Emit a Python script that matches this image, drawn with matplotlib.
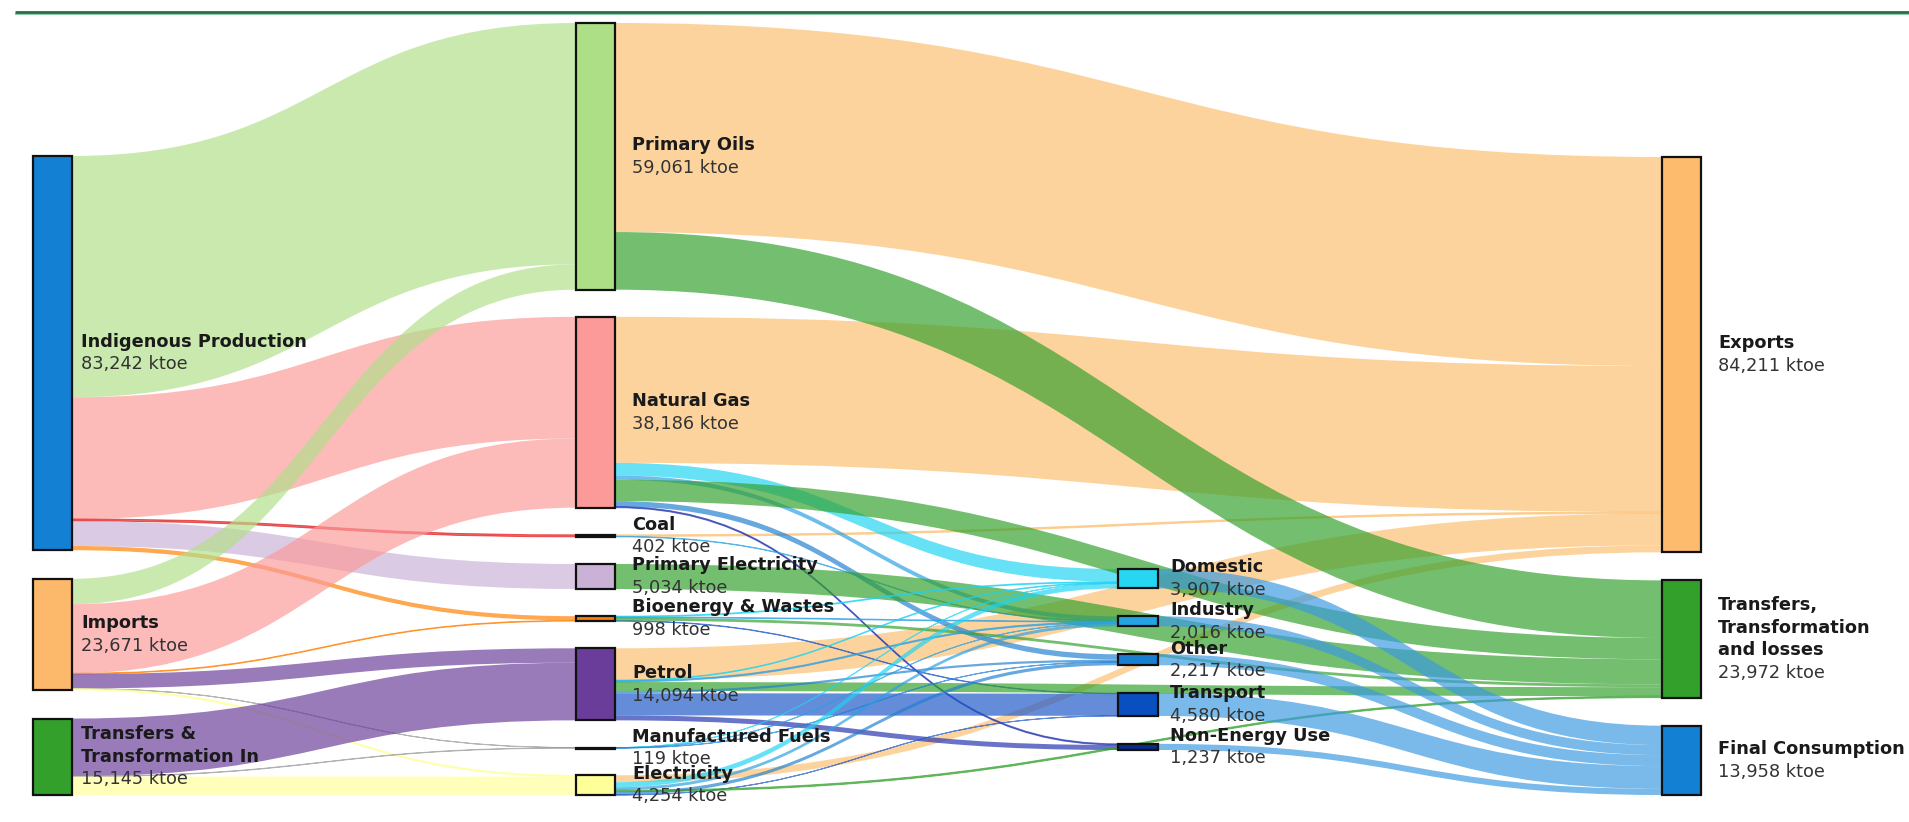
import matplotlib
matplotlib.use("Agg")
import matplotlib.pyplot as plt
from matplotlib.path import Path
from matplotlib.patches import PathPatch, Rectangle

# ---- data -------------------------------------------------------------
node_names = [
    "Indigenous Production", "Imports", "Transfers &\nTransformation In",
    "Primary Oils", "Natural Gas", "Coal", "Primary Electricity",
    "Bioenergy & Wastes", "Petrol", "Manufactured Fuels", "Electricity",
    "Domestic", "Industry", "Other", "Transport", "Non-Energy Use",
    "Exports", "Transfers,\nTransformation\nand losses", "Final Consumption",
]
node_labels = [
    "83,242 ktoe", "23,671 ktoe", "15,145 ktoe",
    "59,061 ktoe", "38,186 ktoe", "402 ktoe", "5,034 ktoe",
    "998 ktoe", "14,094 ktoe", "119 ktoe", "4,254 ktoe",
    "3,907 ktoe", "2,016 ktoe", "2,217 ktoe", "4,580 ktoe", "1,237 ktoe",
    "84,211 ktoe", "23,972 ktoe", "13,958 ktoe",
]
node_column = [0, 0, 0, 1, 1, 1, 1, 1, 1, 1, 1, 2, 2, 2, 2, 2, 3, 3, 3]

# flows (ktoe): source index, target index, value
link_src = [0, 0, 0, 0, 0,
            1, 1, 1, 1, 1, 1,
            2, 2, 2,
            3, 3,
            4, 4, 4, 4, 4, 4,
            5, 5,
            6,
            7, 7, 7, 7,
            8, 8, 8, 8, 8, 8, 8,
            9, 9, 9,
            10, 10, 10, 10, 10, 10,
            11, 12, 13, 14, 15]
link_tgt = [3, 4, 5, 6, 7,
            3, 4, 7, 8, 9, 10,
            8, 9, 10,
            16, 17,
            16, 11, 12, 17, 13, 15,
            16, 12,
            17,
            11, 12, 14, 17,
            16, 11, 12, 17, 13, 14, 15,
            11, 12, 13,
            11, 12, 13, 14, 16, 17,
            18, 18, 18, 18, 18]
link_val = [48600, 24500, 400, 5034, 850,
            5100, 13927, 148, 2900, 40, 260,
            11610, 80, 3710,
            42100, 11600,
            29400, 2550, 860, 4300, 1080, 237,
            300, 100,
            5034,
            180, 150, 100, 568,
            6400, 150, 250, 1800, 450, 4460, 1000,
            27, 56, 37,
            1000, 600, 650, 20, 1400, 300,
            3907, 2016, 2217, 4580, 1237]

# ---- style / layout ---------------------------------------------------
node_colors = ["#1380d4", "#fdb96b", "#33a02c",
               "#addf86", "#fb9a99", "#3a1414", "#cab2d6", "#ff7f00",
               "#6a3d9a", "#222222", "#ffff99",
               "#27d6f2", "#25a4e4", "#1a7fd0", "#0a4fbf", "#0b2a8a",
               "#fdbb6e", "#33a02c", "#1380d4"]
link_colors = {3: "#b2df8a", 4: "#fb9a99", 5: "#e31a1c", 6: "#cab2d6",
               7: "#ff7f00", 8: "#6a3d9a", 9: "#999999", 10: "#ffff99",
               11: "#1ed3f2", 12: "#2aa0e4", 13: "#1f7fd0", 14: "#1a56c8",
               15: "#2233b0", 16: "#fdbf6f", 17: "#33a02c", 18: "#3a9ae0"}
col_x = {0: 33, 1: 576, 2: 1118, 3: 1662}
col_w = {0: 39, 1: 39, 2: 40, 3: 39}
col_span = {0: (156, 795), 1: (23, 795), 2: (569, 750), 3: (157, 795)}
label_dx = {0: 9, 1: 17, 2: 12, 3: 17}
SCALE = 0.004966   # px per ktoe
LINE_H = 22.5
FONT_SIZE = 12.8

n = len(node_names)
inflow = [0.0] * n
outflow = [0.0] * n
for s, t, v in zip(link_src, link_tgt, link_val):
    outflow[s] += v
    inflow[t] += v
heights = [max(inflow[i], outflow[i]) * SCALE for i in range(n)]

node_top = [0.0] * n
for c, (y0, y1) in col_span.items():
    ids = [i for i in range(n) if node_column[i] == c]
    gap = (y1 - y0 - sum(heights[i] for i in ids)) / max(len(ids) - 1, 1)
    y = y0
    for i in ids:
        node_top[i] = y
        y += heights[i] + gap
center = [node_top[i] + heights[i] / 2 for i in range(n)]

# link attachment offsets
links = list(range(len(link_val)))
src_off = {}
tgt_off = {}
for i in range(n):
    outs = sorted([k for k in links if link_src[k] == i], key=lambda k: center[link_tgt[k]])
    y = node_top[i]
    for k in outs:
        src_off[k] = y
        y += link_val[k] * SCALE
    ins = sorted([k for k in links if link_tgt[k] == i], key=lambda k: center[link_src[k]])
    y = node_top[i]
    for k in ins:
        tgt_off[k] = y
        y += link_val[k] * SCALE

fig = plt.figure(figsize=(19.09, 8.22), dpi=100)
ax = fig.add_axes([0, 0, 1, 1])
ax.set_xlim(0, 1909)
ax.set_ylim(822, 0)
ax.axis("off")

# top rule
ax.plot([15, 1909], [13.8, 13.8], color="#7cc49a", linewidth=1.2, solid_capstyle="butt")
ax.plot([15, 1909], [12.2, 12.2], color="#2f6b4c", linewidth=2.0, solid_capstyle="butt")

# exports bands underneath, everything else on top
draw_order = sorted(links, key=lambda k: (link_tgt[k] != 16, link_tgt[k] == 18))
for k in draw_order:
    s, t = link_src[k], link_tgt[k]
    x0 = col_x[node_column[s]] + col_w[node_column[s]]
    x1 = col_x[node_column[t]]
    h = link_val[k] * SCALE
    y0t, y1t = src_off[k], tgt_off[k]
    y0b, y1b = y0t + h, y1t + h
    xm = (x0 + x1) / 2
    verts = [(x0, y0t), (xm, y0t), (xm, y1t), (x1, y1t),
             (x1, y1b), (xm, y1b), (xm, y0b), (x0, y0b), (x0, y0t)]
    codes = [Path.MOVETO, Path.CURVE4, Path.CURVE4, Path.CURVE4,
             Path.LINETO, Path.CURVE4, Path.CURVE4, Path.CURVE4, Path.CLOSEPOLY]
    col = link_colors[t]
    thin = h < 2
    ax.add_patch(PathPatch(Path(verts, codes), facecolor=col, alpha=0.68,
                           edgecolor=col if thin else "none",
                           linewidth=0.7 if thin else 0, zorder=1))

for i in range(n):
    c = node_column[i]
    ax.add_patch(Rectangle((col_x[c], node_top[i]), col_w[c], max(heights[i], 1.5),
                           facecolor=node_colors[i], edgecolor="#111111",
                           linewidth=1.6, zorder=3))
    lines = node_names[i].split("\n")
    m = len(lines) + 1
    tx = col_x[c] + col_w[c] + label_dx[c]
    for j, txt in enumerate(lines + [node_labels[i]]):
        ty = center[i] + (j - (m - 1) / 2) * LINE_H
        bold = j < len(lines)
        ax.text(tx, ty, txt, fontsize=FONT_SIZE, va="center", ha="left",
                fontweight="bold" if bold else "normal",
                color="#1a1a1a" if bold else "#333333", zorder=4)

fig.savefig("out.png", dpi=100)
